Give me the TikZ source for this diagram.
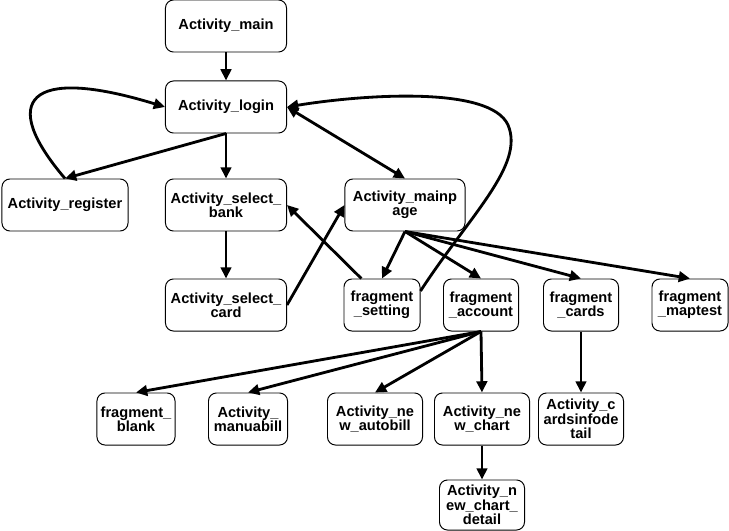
\documentclass[tikz,border=0pt]{standalone}
\usepackage{fontspec}
\setmainfont{Liberation Sans}
\usepackage{tikz}
\usetikzlibrary{calc}
\usetikzlibrary{arrows.meta}

\begin{document}
\begin{tikzpicture}[x=0.025cm,y=-0.025cm]

    \tikzstyle{screen}=[draw,line width=0.7pt,rounded corners=0.2cm,align=center,
        minimum height=1.3cm,inner sep=1pt,font=\fontsize{10.4pt}{10.2pt}\selectfont\bfseries]
    \tikzstyle{link}=[-{Triangle[length=8pt,width=7.5pt]},line width=2pt,color=black]
    \tikzstyle{both link}=[{Triangle[length=8pt,width=7.5pt]}-{Triangle[length=8pt,width=7.5pt]},line width=2pt,color=black]

    \useasboundingbox (0,0) rectangle (729,531);

    % Activities on top
    \node[style=screen,minimum width=3.025cm] (main) at (226,26) {Activity\_main};
    \node[style=screen,minimum width=3.025cm] (login) at (226,107) {Activity\_login};
    \node[style=screen,minimum width=3.15cm] (register) at (65,205) {Activity\_register};
    \node[style=screen,minimum width=3.025cm] (selbank) at (226,205) {Activity\_select\_\\bank};
    \node[style=screen,minimum width=3cm] (mainpage) at (405,205) {Activity\_mainp\\age};
    \node[style=screen,minimum width=3.025cm] (selcard) at (226,305) {Activity\_select\_\\card};

    % Fragments
    \node[style=screen,minimum width=1.9cm] (setting) at (382,305) {fragment\\\_setting};
    \node[style=screen,minimum width=1.875cm] (account) at (481,305) {fragment\\\_account};
    \node[style=screen,minimum width=1.875cm] (cards) at (581,305) {fragment\\\_cards};
    \node[style=screen,minimum width=1.9cm] (maptest) at (690,305) {fragment\\\_maptest};

    % Bottom row
    \node[style=screen,minimum width=1.95cm] (blank) at (136,419) {fragment\_\\blank};
    \node[style=screen,minimum width=1.975cm] (manuabill) at (248,419) {Activity\_\\manuabill};
    \node[style=screen,minimum width=2.375cm] (autobill) at (375,419) {Activity\_ne\\w\_autobill};
    \node[style=screen,minimum width=2.375cm] (chart) at (482,419) {Activity\_ne\\w\_chart};
    \node[style=screen,minimum width=2.125cm] (cardsinfo) at (581,419) {Activity\_c\\ardsinfode\\tail};
    \node[style=screen,minimum width=2.125cm,minimum height=1.25cm] (chartdetail) at (482,505) {Activity\_n\\ew\_chart\_\\detail};

    % Login and register
    \draw[style=link] (main) -- (login);
    \draw[style=link] (login.south) -- (register.north);
    \draw[style=link] (register.north) .. controls (-2,100) and (28,65) .. (login.west);
    \draw[style=link] (login) -- (selbank);
    \draw[style=both link] (login.east) -- (mainpage.north);

    % Bank and card selection
    \draw[style=link] (selbank) -- (selcard);
    \draw[style=link] (selcard.east) -- (mainpage.west);
    \draw[style=link] (setting.128) -- (selbank.east);

    % Main page to the fragments
    \draw[style=link] (mainpage.south) -- (setting.north);
    \draw[style=link] (mainpage.south) -- (account.north);
    \draw[style=link] (mainpage.south) -- (cards.north);
    \draw[style=link] (mainpage.south) -- (maptest.north);
    \draw[style=link] (setting.20) .. controls (470,215) and (525,165) .. (508,125)
        .. controls (490,85) and (360,95) .. (login.east);

    % Account and cards
    \draw[style=link] (account.south) -- (blank.north);
    \draw[style=link] (account.south) -- (manuabill.north);
    \draw[style=link] (account.south) -- (autobill.north);
    \draw[style=link] (account.south) -- (chart.north);
    \draw[style=link] (cards) -- (cardsinfo);
    \draw[style=link] (chart) -- (chartdetail);

\end{tikzpicture}
\end{document}
